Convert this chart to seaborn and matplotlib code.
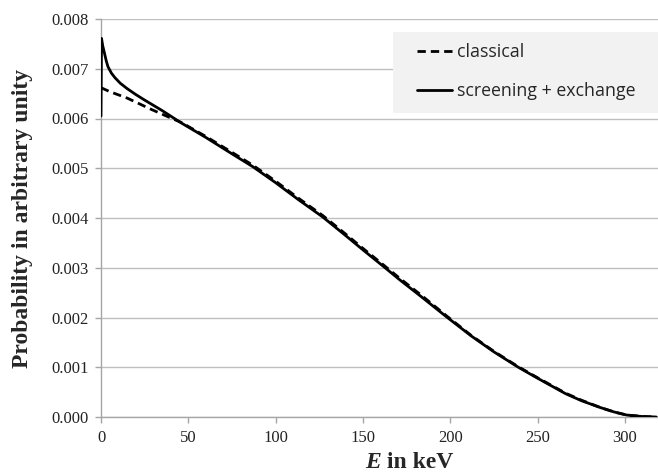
import matplotlib
matplotlib.use("Agg")
import matplotlib.pyplot as plt
import seaborn as sns
import pandas as pd
from matplotlib.patches import Rectangle

# energies in keV, probabilities in units of 1e-3
E_screen = [0, 0.3, 1, 2, 3, 4, 6, 8, 11, 15, 20, 25, 35, 46, 60, 75, 87, 100, 113,
            127, 140, 150, 162, 171, 183, 198, 212, 225, 239, 250, 266, 275, 286,
            294, 301, 310, 318]
P_screen = [6.05, 7.61, 7.46, 7.31, 7.16, 7.04, 6.91, 6.82, 6.71, 6.60, 6.48, 6.37,
            6.16, 5.91, 5.62, 5.29, 5.03, 4.71, 4.37, 4.02, 3.65, 3.36, 3.02, 2.76,
            2.43, 2.01, 1.63, 1.31, 1.00, 0.78, 0.47, 0.33, 0.19, 0.10, 0.04, 0.01,
            0.00]

E_class = [0, 5, 15, 29, 40, 46, 60, 75, 87, 100, 113, 127, 140, 150, 162, 171, 183,
           198, 212, 225, 239, 250, 266, 275, 286, 294, 301, 310, 318]
P_class = [6.62, 6.54, 6.41, 6.18, 6.01, 5.92, 5.64, 5.32, 5.06, 4.74, 4.40, 4.05,
           3.68, 3.39, 3.05, 2.79, 2.46, 2.03, 1.64, 1.32, 1.01, 0.79, 0.48, 0.34,
           0.19, 0.10, 0.04, 0.01, 0.00]

df_s = pd.DataFrame({"E": E_screen, "P": [p * 1e-3 for p in P_screen]})
df_c = pd.DataFrame({"E": E_class, "P": [p * 1e-3 for p in P_class]})

sns.set_style("white")
plt.rcParams["font.family"] = ["Liberation Serif", "DejaVu Serif"]
SERIF = ["Liberation Serif", "DejaVu Serif"]

fig = plt.figure(figsize=(6.58, 4.76), dpi=100)
ax = fig.add_axes([101 / 658, 59 / 476, 557 / 658, 398 / 476])

sns.lineplot(data=df_c, x="E", y="P", ax=ax, color="black", lw=2.0,
             estimator=None, sort=False, label="classical", zorder=3)
ax.lines[-1].set_dashes((3.0, 1.8))
sns.lineplot(data=df_s, x="E", y="P", ax=ax, color="black", lw=2.0,
             estimator=None, sort=False, label="screening + exchange", zorder=4)

ax.set_xlim(0, 319)
ax.set_ylim(0, 0.008)
ax.set_xticks(range(0, 301, 50))
ax.set_xticklabels([str(v) for v in range(0, 301, 50)], fontfamily=SERIF)
ax.set_yticks([i * 0.001 for i in range(9)])
ax.set_yticklabels(["%.3f" % (i * 0.001) for i in range(9)], fontfamily=SERIF)

ax.grid(axis="y", color="#bfbfbf", lw=1.0)
ax.grid(axis="x", visible=False)
for side in ["top", "right"]:
    ax.spines[side].set_visible(False)
for side in ["left", "bottom"]:
    ax.spines[side].set_color("#a6a6a6")
    ax.spines[side].set_linewidth(1.0)
ax.tick_params(axis="both", which="major", length=4, width=1, color="#a6a6a6",
               labelsize=12, labelcolor="#222222", direction="out",
               bottom=True, left=True, pad=5)

ax.set_xlabel("")
fig.text(381 / 658, 1 - 462 / 476, "E", fontsize=17, fontweight="bold",
         fontstyle="italic", ha="right", va="center", family=SERIF)
fig.text(381 / 658, 1 - 462 / 476, " in keV", fontsize=17, fontweight="bold",
         ha="left", va="center", family=SERIF)
ax.set_ylabel("Probability in arbitrary unity", fontsize=17, fontweight="bold",
              family=SERIF)
ax.yaxis.set_label_coords(-(101 - 33) / 557, 0.5)

# legend box
ax.add_patch(Rectangle((0.524, 0.764), 0.476, 0.203, transform=ax.transAxes,
                       facecolor="#f2f2f2", edgecolor="none", zorder=5, clip_on=False))
leg = ax.legend(loc="upper left", bbox_to_anchor=(0.567, 0.94), frameon=False,
                borderpad=0, borderaxespad=0, handlelength=2.0, handletextpad=0.25,
                labelspacing=1.2, prop={"family": "Open Sans", "size": 12.8})
leg.set_zorder(6)

fig.savefig("out.png", dpi=100)
